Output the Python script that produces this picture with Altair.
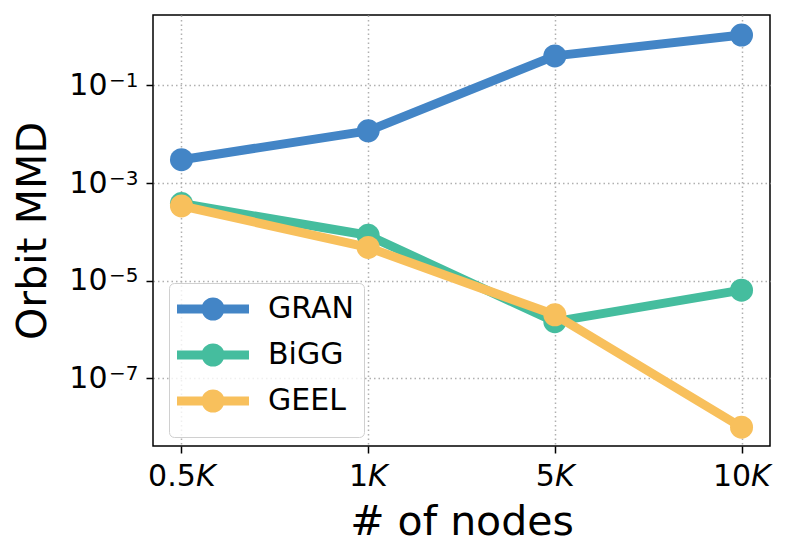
import math
import altair as alt
import pandas as pd

# ---- data ----
nodes = ["0.5K", "1K", "5K", "10K"]
node_labels = ["0.5𝘒", "1𝘒", "5𝘒", "10𝘒"]
series = ["GRAN", "BiGG", "GEEL"]
gran = [3.0e-3, 1.17e-2, 0.40, 1.07]
bigg = [3.8e-4, 8.5e-5, 1.45e-6, 6.4e-6]
geel = [3.4e-4, 4.8e-5, 2.0e-6, 1.0e-8]
colors = ["#4385c6", "#45bd9e", "#f8c05c"]
y_ticks = [1e-1, 1e-3, 1e-5, 1e-7]
y_tick_base = "10"
y_tick_exps = ["−1", "−3", "−5", "−7"]
y_domain = [4.13e-9, 2.75]

rows = []
for s, vals in zip(series, [gran, bigg, geel]):
    for n, v in zip(nodes, vals):
        rows.append({"series": s, "nodes": n, "mmd": v})
df = pd.DataFrame(rows)

FONT = "DejaVu Sans"

x_expr = "".join(f"datum.value == '{n}' ? '{l}' : " for n, l in zip(nodes, node_labels)) + "datum.label"
sup_expr = "".join(
    f"round(log(datum.value)/LN10) == {round(math.log10(t))} ? '{l}' : "
    for t, l in zip(y_ticks, y_tick_exps)
) + "''"

x_enc = alt.X(
    "nodes:N",
    sort=nodes,
    scale=alt.Scale(padding=0.1525),
    axis=alt.Axis(
        title="# of nodes", labelAngle=0, labelExpr=x_expr, grid=True,
        titleFontSize=41, titlePadding=11, labelPadding=8,
    ),
)
y_scale = alt.Scale(type="log", domain=y_domain, nice=False)
y_main = alt.Y(
    "mmd:Q", scale=y_scale,
    axis=alt.Axis(
        orient="left", title="Orbit MMD", values=y_ticks, labelExpr=f"'{y_tick_base}'",
        grid=True, titleFontSize=41, titlePadding=14, labelPadding=39,
    ),
)
y_sup = alt.Y(
    "mmd:Q", scale=y_scale,
    axis=alt.Axis(
        orient="left", title=None, values=y_ticks, labelExpr=sup_expr,
        grid=False, ticks=False, tickSize=0, labelFontSize=20, labelPadding=15, labelOffset=-5,
    ),
)
y_plain = alt.Y("mmd:Q", scale=y_scale, axis=None)

k = 11.5
L = 36 / k
r1 = 7 / k
r2 = 2.5 / k
sym = (
    f"M{-L:.3f},0L{L:.3f},0"
    f"M{r1:.3f},0A{r1:.3f},{r1:.3f},0,1,1,{-r1:.3f},0A{r1:.3f},{r1:.3f},0,1,1,{r1:.3f},0"
    f"M{r2:.3f},0A{r2:.3f},{r2:.3f},0,1,1,{-r2:.3f},0A{r2:.3f},{r2:.3f},0,1,1,{r2:.3f},0"
)

legend = alt.Legend(
    title=None, orient="none", legendX=16, legendY=268,
    symbolType=sym, symbolSize=529, symbolStrokeWidth=9,
    labelFont=FONT, labelFontSize=30, labelColor="black",
    labelExpr="datum.label + '\u00a0\u00a0'",
    padding=10, rowPadding=-6, labelOffset=39, symbolOffset=18,
    strokeColor="#d0d0d0", fillColor="rgba(255,255,255,0.8)", cornerRadius=5,
)

layers = []
for i, s in enumerate(series):
    base = alt.Chart(df).transform_filter(alt.datum.series == s)
    line = base.mark_line(strokeWidth=9, strokeJoin="round").encode(
        x=x_enc, y=y_main if i == 0 else y_plain,
        color=alt.Color("series:N", scale=alt.Scale(domain=series, range=colors), legend=legend),
    )
    pts = base.mark_point(filled=True, size=529, opacity=1, shape="circle").encode(
        x=x_enc, y=y_sup if i == 0 else y_plain,
        color=alt.Color("series:N", scale=alt.Scale(domain=series, range=colors), legend=None),
    )
    layers += [line, pts]

chart = (
    alt.layer(*layers)
    .resolve_axis(y="independent")
    .properties(
        width=617, height=431,
        autosize=alt.AutoSizeParams(type="none"),
        padding={"left": 145, "top": 7, "right": 8, "bottom": 98},
    )
    .configure_view(stroke="black", strokeWidth=1.5)
    .configure_axis(
        labelFont=FONT, labelFontSize=30, labelColor="black",
        titleFont=FONT, titleFontWeight="normal", titleColor="black",
        domain=False, tickColor="black", tickWidth=1.5, tickSize=7,
        gridColor="#b0b0b0", gridDash=[1.5, 3], gridWidth=1.5,
    )
)

chart.save("out.html", embed_options={"renderer": "svg", "actions": False})
